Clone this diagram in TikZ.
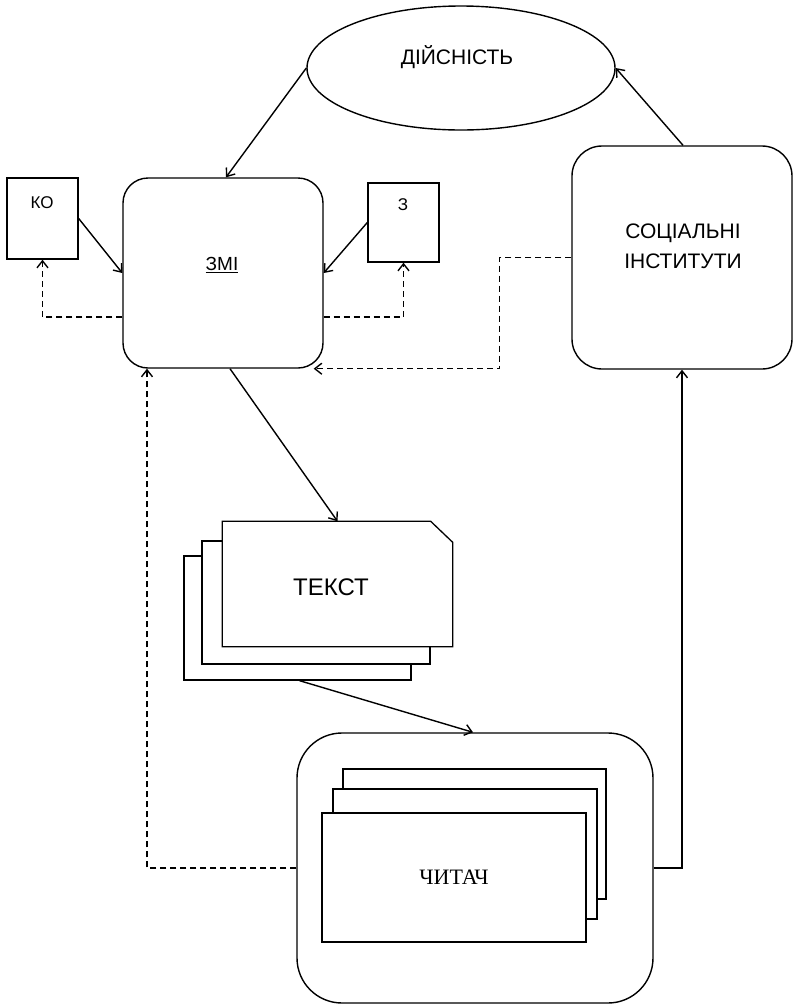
\documentclass[tikz,border=0pt]{standalone}
\usepackage{fontspec}
\setmainfont{Liberation Serif}
\setsansfont{Liberation Sans}
\usetikzlibrary{shapes.geometric,arrows.meta}
\newcommand{\Lab}[1]{\fontsize{#1}{#1}\selectfont\sffamily}

\begin{document}
\begin{tikzpicture}[x=1pt,y=-1pt,line width=1.4pt,
    box/.style={draw,fill=white,inner sep=0pt},
    rbox/.style={box,rounded corners=#1},
    card/.style={box,line width=1.3pt},
    arr/.style={-{Straight Barb[length=7pt,width=11pt]}},
    darr/.style={arr,dash pattern=on 6pt off 4pt}]
    \useasboundingbox (0,0) rectangle (794,1005);
    % top
    \node[box,ellipse,minimum width=308pt,minimum height=124pt] (real) at (461,68) {};
    \node[font=\Lab{21}] (realtxt) at (457,57) {ДІЙСНІСТЬ};
    \node[rbox=25pt,minimum width=200pt,minimum height=190pt] (smi) at (223,273) {};
    \node[font=\Lab{19}] (smitxt) at (222,265) {\underline{ЗМІ}};
    \node[box,minimum width=71pt,minimum height=81pt] (ko) at (42.5,218.5) {};
    \node[font=\Lab{17}] (kotxt) at (42,203) {КО};
    \node[box,minimum width=71pt,minimum height=79pt] (z) at (403.5,222.5) {};
    \node[font=\Lab{17}] (ztxt) at (403,205) {З};
    \node[rbox=30pt,minimum width=220pt,minimum height=223pt] (inst) at (682,257.5) {};
    \node[font=\Lab{21},align=center] (insttxt) at (683,246) {СОЦІАЛЬНІ\\[9pt]ІНСТИТУТИ};
    % text
    \node[card,minimum width=227pt,minimum height=124pt] (text1) at (297.5,618) {};
    \node[card,minimum width=228pt,minimum height=123pt] (text2) at (316,602.5) {};
    \node[inner sep=0pt,minimum width=229pt,minimum height=124pt] (text3) at (337.5,584) {};
    \draw[card] (text3.north west) -- ([xshift=-22pt]text3.north east)
        -- ([yshift=-21pt]text3.north east) -- (text3.south east)
        -- (text3.south west) -- cycle;
    \node[font=\Lab{24}] (texttxt) at (331,587) {ТЕКСТ};
    % reader
    \node[rbox=45pt,minimum width=356pt,minimum height=270pt] (reader) at (475,868) {};
    \node[card,minimum width=263pt,minimum height=130pt] (reader1) at (474.5,834) {};
    \node[card,minimum width=264pt,minimum height=130pt] (reader2) at (465,854) {};
    \node[card,minimum width=264pt,minimum height=129pt,
        font=\fontsize{22}{22}\selectfont\rmfamily] (reader3) at (454,877.5) {ЧИТАЧ};
    % links
    \draw[arr] (real.west) -- ([xshift=3pt]smi.north);
    \draw[arr] ([xshift=1pt]inst.north) -- (real.east);
    \draw[arr] (ko.east) -- (smi.west);
    \draw[arr] (z.west) -- (smi.east);
    \draw[darr] ([yshift=-44pt]smi.west) -| (ko.south);
    \draw[darr] ([yshift=-44pt]smi.east) -| (z.south);
    \draw[darr] (inst.west) -- ++(-72,0) |- ([xshift=-10pt]smi.south east);
    \draw[darr] (reader.west) -| ([xshift=-76pt]smi.south);
    \draw[arr] ([xshift=7pt]smi.south) -- (text3.north);
    \draw[arr] ([xshift=2pt]text1.south) -- ([xshift=-2pt]reader.north);
    \draw[arr] (reader.east) -| (inst.south);
\end{tikzpicture}
\end{document}
